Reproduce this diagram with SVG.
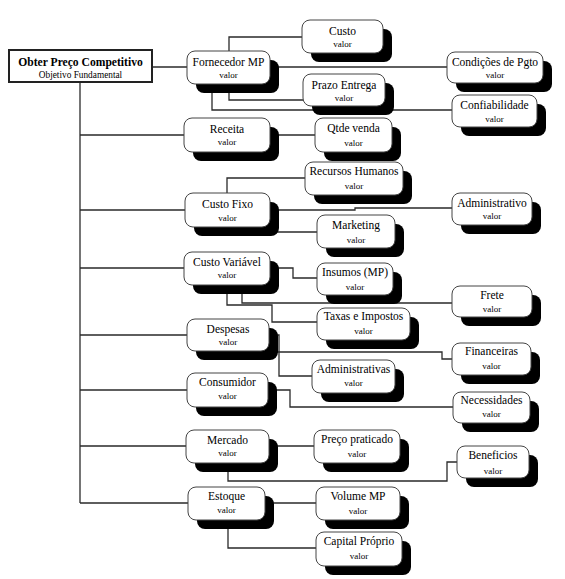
<svg xmlns="http://www.w3.org/2000/svg" width="565" height="579" viewBox="0 0 565 579">
<style>
.c{fill:none;stroke:#2a2a2a;stroke-width:1.3}
.sh{fill:#000}
.bx{fill:#fff;stroke:#444;stroke-width:1}
.t{font-family:"Liberation Serif","Times New Roman",serif;font-size:11.5px;text-anchor:middle;fill:#000}
.v{font-family:"Liberation Serif","Times New Roman",serif;font-size:9px;text-anchor:middle;fill:#000}
</style>
<rect width="565" height="579" fill="#fff"/>
<g id="connectors">
<path class="c" d="M80,82 V503"/>
<path class="c" d="M152,67 H447"/>
<path class="c" d="M80,135 H184 M80,210 H185 M80,268 H184 M80,335 H187 M80,390 H187 M80,446 H186 M80,503 H188"/>
<path class="c" d="M229,51 V37 H302"/>
<path class="c" d="M229,84 V100 H303"/>
<path class="c" d="M212,84 V110 H452"/>
<path class="c" d="M270,135 H315"/>
<path class="c" d="M227,193 V178 H305"/>
<path class="c" d="M270,210 H355 V208 H452"/>
<path class="c" d="M270,232 H317"/>
<path class="c" d="M270,268 H293 V278 H317"/>
<path class="c" d="M242,285 V303 H452"/>
<path class="c" d="M227,285 V305 H272 V322 H317"/>
<path class="c" d="M269,335 H279 V376 H312"/>
<path class="c" d="M269,352 H442 V359 H452"/>
<path class="c" d="M268,390 H290 V407 H453"/>
<path class="c" d="M269,446 H314"/>
<path class="c" d="M228,463 V481 H447 V462 H457"/>
<path class="c" d="M265,503 H316"/>
<path class="c" d="M228,520 V548 H316"/>
</g>
<g id="root">
<rect x="9" y="50" width="143" height="32" fill="#fff" stroke="#222" stroke-width="2"/>
<text x="80.5" y="66" style="font-family:'Liberation Serif','Times New Roman',serif;font-size:11.6px;font-weight:bold;text-anchor:middle">Obter Preço Competitivo</text>
<text x="80.5" y="77.5" style="font-family:'Liberation Serif','Times New Roman',serif;font-size:9.3px;text-anchor:middle">Objetivo Fundamental</text>
</g>
<g id="fornecedor">
<rect class="sh" x="196" y="60" width="83" height="33" rx="8"/><rect class="bx" x="187" y="51" width="83" height="33" rx="8"/>
<text class="t" x="228.5" y="65.5">Fornecedor MP</text><text class="v" x="228.5" y="78">valor</text>
</g>
<g id="custo">
<rect class="sh" x="311" y="29" width="81" height="33" rx="8"/><rect class="bx" x="302" y="20" width="81" height="33" rx="8"/>
<text class="t" x="342.5" y="34.5">Custo</text><text class="v" x="342.5" y="47">valor</text>
</g>
<g id="prazo">
<rect class="sh" x="312" y="83" width="82" height="32" rx="8"/><rect class="bx" x="303" y="74" width="82" height="32" rx="8"/>
<text class="t" x="344" y="88.5">Prazo Entrega</text><text class="v" x="344" y="101">valor</text>
</g>
<g id="condicoes">
<rect class="sh" x="456" y="61" width="96" height="31" rx="8"/><rect class="bx" x="447" y="52" width="96" height="31" rx="8"/>
<text class="t" x="495" y="66">Condições de Pgto</text><text class="v" x="495" y="78">valor</text>
</g>
<g id="confiabilidade">
<rect class="sh" x="461" y="104" width="85" height="32" rx="8"/><rect class="bx" x="452" y="95" width="85" height="32" rx="8"/>
<text class="t" x="494.5" y="109">Confiabilidade</text><text class="v" x="494.5" y="121.5">valor</text>
</g>
<g id="receita">
<rect class="sh" x="193" y="127" width="86" height="34" rx="8"/><rect class="bx" x="184" y="118" width="86" height="34" rx="8"/>
<text class="t" x="227" y="133">Receita</text><text class="v" x="227" y="145">valor</text>
</g>
<g id="qtde">
<rect class="sh" x="324" y="127" width="77" height="34" rx="8"/><rect class="bx" x="315" y="118" width="77" height="34" rx="8"/>
<text class="t" x="353.5" y="132">Qtde venda</text><text class="v" x="353.5" y="145.5">valor</text>
</g>
<g id="rh">
<rect class="sh" x="314" y="171" width="98" height="33" rx="8"/><rect class="bx" x="305" y="162" width="98" height="33" rx="8"/>
<text class="t" x="354" y="175">Recursos Humanos</text><text class="v" x="354" y="188.5">valor</text>
</g>
<g id="custofixo">
<rect class="sh" x="194" y="202" width="85" height="34" rx="8"/><rect class="bx" x="185" y="193" width="85" height="34" rx="8"/>
<text class="t" x="227.5" y="208">Custo Fixo</text><text class="v" x="227.5" y="220.5">valor</text>
</g>
<g id="administrativo">
<rect class="sh" x="461" y="202" width="80" height="32" rx="8"/><rect class="bx" x="452" y="193" width="80" height="32" rx="8"/>
<text class="t" x="492" y="206.5">Administrativo</text><text class="v" x="492" y="219">valor</text>
</g>
<g id="marketing">
<rect class="sh" x="326" y="224" width="78" height="33" rx="8"/><rect class="bx" x="317" y="215" width="78" height="33" rx="8"/>
<text class="t" x="356" y="229">Marketing</text><text class="v" x="356" y="243">valor</text>
</g>
<g id="custovariavel">
<rect class="sh" x="193" y="261" width="86" height="33" rx="8"/><rect class="bx" x="184" y="252" width="86" height="33" rx="8"/>
<text class="t" x="227" y="266">Custo Variável</text><text class="v" x="227" y="278">valor</text>
</g>
<g id="insumos">
<rect class="sh" x="326" y="272" width="76" height="32" rx="8"/><rect class="bx" x="317" y="263" width="76" height="32" rx="8"/>
<text class="t" x="355" y="276">Insumos (MP)</text><text class="v" x="355" y="290">valor</text>
</g>
<g id="frete">
<rect class="sh" x="461" y="295" width="80" height="31" rx="8"/><rect class="bx" x="452" y="286" width="80" height="31" rx="8"/>
<text class="t" x="492" y="299">Frete</text><text class="v" x="492" y="312">valor</text>
</g>
<g id="taxas">
<rect class="sh" x="326" y="317" width="93" height="32" rx="8"/><rect class="bx" x="317" y="308" width="93" height="32" rx="8"/>
<text class="t" x="363.5" y="320">Taxas e Impostos</text><text class="v" x="363.5" y="333.5">valor</text>
</g>
<g id="despesas">
<rect class="sh" x="196" y="328" width="82" height="32" rx="8"/><rect class="bx" x="187" y="319" width="82" height="32" rx="8"/>
<text class="t" x="228" y="333">Despesas</text><text class="v" x="228" y="345">valor</text>
</g>
<g id="financeiras">
<rect class="sh" x="461" y="352" width="79" height="32" rx="8"/><rect class="bx" x="452" y="343" width="79" height="32" rx="8"/>
<text class="t" x="491.5" y="355">Financeiras</text><text class="v" x="491.5" y="369">valor</text>
</g>
<g id="administrativas">
<rect class="sh" x="321" y="369" width="83" height="33" rx="8"/><rect class="bx" x="312" y="360" width="83" height="33" rx="8"/>
<text class="t" x="353.5" y="373">Administrativas</text><text class="v" x="353.5" y="386">valor</text>
</g>
<g id="consumidor">
<rect class="sh" x="196" y="382" width="81" height="34" rx="8"/><rect class="bx" x="187" y="373" width="81" height="34" rx="8"/>
<text class="t" x="227.5" y="386">Consumidor</text><text class="v" x="227.5" y="399">valor</text>
</g>
<g id="necessidades">
<rect class="sh" x="462" y="401" width="77" height="31" rx="8"/><rect class="bx" x="453" y="392" width="77" height="31" rx="8"/>
<text class="t" x="491.5" y="404">Necessidades</text><text class="v" x="491.5" y="417">valor</text>
</g>
<g id="mercado">
<rect class="sh" x="195" y="439" width="83" height="33" rx="8"/><rect class="bx" x="186" y="430" width="83" height="33" rx="8"/>
<text class="t" x="227.5" y="444">Mercado</text><text class="v" x="227.5" y="456">valor</text>
</g>
<g id="preco">
<rect class="sh" x="323" y="439" width="86" height="33" rx="8"/><rect class="bx" x="314" y="430" width="86" height="33" rx="8"/>
<text class="t" x="357" y="443">Preço praticado</text><text class="v" x="357" y="457">valor</text>
</g>
<g id="beneficios">
<rect class="sh" x="466" y="455" width="72" height="32" rx="8"/><rect class="bx" x="457" y="446" width="72" height="32" rx="8"/>
<text class="t" x="493" y="459">Beneficios</text><text class="v" x="493" y="474">valor</text>
</g>
<g id="estoque">
<rect class="sh" x="197" y="496" width="77" height="33" rx="8"/><rect class="bx" x="188" y="487" width="77" height="33" rx="8"/>
<text class="t" x="226.5" y="500">Estoque</text><text class="v" x="226.5" y="513">valor</text>
</g>
<g id="volume">
<rect class="sh" x="325" y="496" width="84" height="33" rx="8"/><rect class="bx" x="316" y="487" width="84" height="33" rx="8"/>
<text class="t" x="358" y="500">Volume MP</text><text class="v" x="358" y="514">valor</text>
</g>
<g id="capital">
<rect class="sh" x="325" y="541" width="86" height="34" rx="8"/><rect class="bx" x="316" y="532" width="86" height="34" rx="8"/>
<text class="t" x="359" y="545">Capital Próprio</text><text class="v" x="359" y="559">valor</text>
</g>
</svg>
